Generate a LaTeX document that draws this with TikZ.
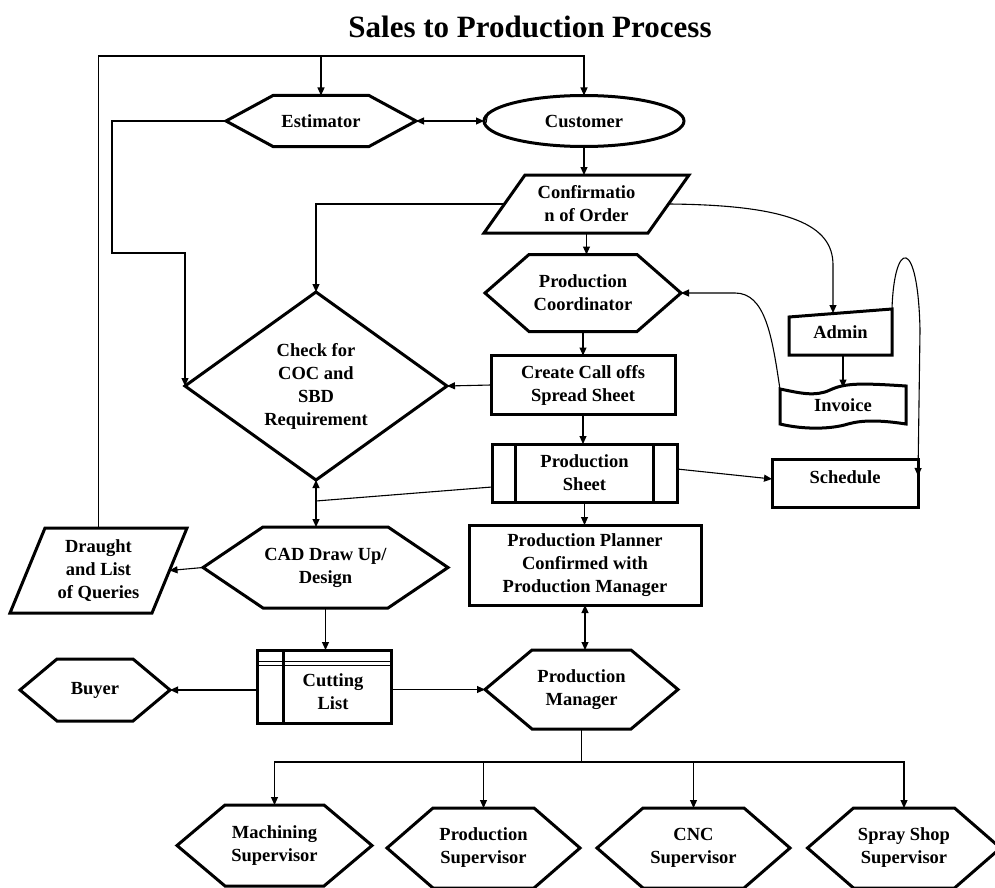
\documentclass[tikz,border=0pt]{standalone}
\usepackage{fontspec}
\setmainfont{Liberation Serif}
\usetikzlibrary{arrows.meta,calc,shapes.geometric}

\tikzset{
  shp/.style={draw=black, line width=3pt, line join=miter},
  conn/.style={draw=black, line width=1.1pt},
  arr/.style={conn, -{Triangle[length=8pt,width=7pt]}},
  arrtwo/.style={conn, {Triangle[length=8pt,width=7pt]}-{Triangle[length=8pt,width=7pt]}},
  lbl/.style={inner sep=0pt, outer sep=0pt, align=center, text=black,
              font=\fontsize{18.5}{23}\selectfont\bfseries},
}

% hexagon: name, x, y, width, height, inset, text
\newcommand\hexbox[7]{%
  \node[lbl, minimum width=#4pt, minimum height=#5pt] (#1) at (#2,#3) {#7};
  \draw[shp] (#1.west) -- ([xshift=#6pt]#1.north west) -- ([xshift=-#6pt]#1.north east)
    -- (#1.east) -- ([xshift=-#6pt]#1.south east) -- ([xshift=#6pt]#1.south west) -- cycle;
}
% decision diamond: name, x, y, width, height, text
\newcommand\diabox[6]{%
  \node[lbl, minimum width=#4pt, minimum height=#5pt] (#1) at (#2,#3) {#6};
  \draw[shp] (#1.west) -- (#1.north) -- (#1.east) -- (#1.south) -- cycle;
}
% data parallelogram: name, x, y, width, height, slant, text
\newcommand\parabox[7]{%
  \node[lbl, minimum width=#4pt, minimum height=#5pt] (#1) at (#2,#3) {#7};
  \draw[shp] ([xshift=#6pt]#1.north west) -- (#1.north east)
    -- ([xshift=-#6pt]#1.south east) -- (#1.south west) -- cycle;
}
% process rectangle: name, x, y, width, height, text
\newcommand\rectbox[6]{%
  \node[lbl, shp, minimum width=#4pt, minimum height=#5pt] (#1) at (#2,#3) {#6};
}

\begin{document}
\begin{tikzpicture}[x=1pt,y=-1pt]
\fill[white] (0,0) rectangle (995,888);
\useasboundingbox (0,0) rectangle (995,888);

% heading
\node[inner sep=0pt, anchor=base, font=\fontsize{31}{36}\selectfont\bfseries]
  (title) at (530,38) {Sales to Production Process};

% ---- upper part
\hexbox{est}{321}{121}{190}{51}{47}{Estimator}
\node[lbl, shp, ellipse, minimum width=200pt, minimum height=51pt] (cust) at (584,121) {Customer};
\draw[line width=1.1pt] ([shift={(4pt,9pt)}]cust.west) -- ([shift={(2pt,-2pt)}]cust.west);
\parabox{conf}{586.5}{204}{205}{58}{41}{Confirmatio\\n of Order}
\hexbox{coord}{583}{293}{196}{77}{44}{Production\\Coordinator}
\diabox{chk}{316}{386}{262}{188}{Check for\\COC and\\SBD\\Requirement}
\rectbox{create}{583}{385}{184}{59}{Create Call offs\\Spread Sheet}

% production sheet (predefined process)
\rectbox{sheet}{584.5}{473}{185}{58}{Production\\Sheet}
\draw[shp] ([xshift=23pt]sheet.north west) -- ([xshift=23pt]sheet.south west);
\draw[shp] ([xshift=-24pt]sheet.north east) -- ([xshift=-24pt]sheet.south east);

\rectbox{plan}{585}{565}{232}{80}{Production Planner\\Confirmed with\\Production Manager}

% admin (manual input) and invoice (document)
\node[lbl, minimum width=103pt, minimum height=46pt] (admin) at (840.5,332) {Admin};
\draw[shp] (admin.south west) -- ([yshift=-8pt]admin.north west) -- (admin.north east)
  -- (admin.south east) -- cycle;
\node[lbl, minimum width=126pt, minimum height=40pt] (inv) at (843,405.5) {Invoice};
\draw[shp] (780,389) .. controls (800,393) and (815,397) .. (830,390)
  .. controls (845,383) and (860,383) .. (906,386) -- (906,424)
  .. controls (880,420) and (862,420) .. (848,424)
  .. controls (832,429) and (805,430) .. (780,424) -- cycle;

% schedule
\node[shp, inner sep=0pt, outer sep=0pt, minimum width=146pt, minimum height=48pt] (sched) at (845,483) {};
\node[lbl] (schedtxt) at (845,477) {Schedule};

% ---- lower part
\hexbox{cad}{325.5}{567.5}{245}{81}{60}{CAD Draw Up/\\Design}
\parabox{draught}{98.5}{570.5}{177}{85}{35}{Draught\\and List\\of Queries}
\hexbox{buyer}{95}{690}{150}{62}{37}{Buyer}
\hexbox{pm}{581.5}{689.5}{193}{79}{47}{Production\\Manager}

% cutting list
\node[shp, inner sep=0pt, outer sep=0pt, minimum width=134pt, minimum height=73pt] (cut) at (324,686.5) {};
\draw[shp] ([xshift=26pt]cut.north west) -- ([xshift=26pt]cut.south west);
\draw[line width=1.8pt] ([yshift=-11.5pt]cut.north west) -- ([yshift=-11.5pt]cut.north east);
\draw[line width=1.8pt] ([yshift=-15.5pt]cut.north west) -- ([yshift=-15.5pt]cut.north east);
\node[lbl] (cuttxt) at (333,692) {Cutting\\List};

% supervisors
\hexbox{supa}{274.5}{845.5}{195}{81}{48}{Machining\\Supervisor}
\hexbox{supb}{483.5}{848}{193}{80}{46}{Production\\Supervisor}
\hexbox{supc}{693.5}{848}{193}{80}{46}{CNC\\Supervisor}
\hexbox{supd}{904}{848}{193}{80}{46}{Spray Shop\\Supervisor}

% ---- connectors
\coordinate (topl) at (97,56);
\draw[arr] (draught.north) |- (cust.north |- topl) -- (cust.north);
\draw[arr] (est.north |- topl) -- (est.north);
\draw[arrtwo] (est.east) -- (cust.west);

\coordinate (ej) at (112,253);
\draw[arr] (est.west) -| (ej) -| (chk.west);

\draw[arr] (cust.south) -- (cust.south |- conf.north);
\draw[arr] ([xshift=20.5pt]conf.west) -| (chk.north);
\draw[arr] (conf.south) -- (conf.south |- coord.north);

\coordinate (admintop) at (833,313);
\draw[arr] ([xshift=-20.5pt]conf.east) .. controls (790,205) and (833,225) .. (833,265) -- (admintop);
\draw[arr] (inv.north |- admin.south) -- ([yshift=-2pt]inv.north);
\draw[arr] ([yshift=-4pt]inv.north west) .. controls (772,335) and (765,293) .. (735,293) -- (coord.east);
\draw[arr] (admin.north east) .. controls (894,240) and (918,235) .. (920,330) -- ([yshift=7pt]sched.east);

\draw[arr] (coord.south) -- (coord.south |- create.north);
\draw[arr] (create.west) -- (chk.east);
\draw[arr] (create.south) -- (create.south |- sheet.north);
\draw[arr] (sheet.south) -- (sheet.south |- plan.north);
\draw[arr] ([yshift=4pt]sheet.east) -- ([yshift=4pt]sched.west);

\coordinate (stem) at (chk.south |- 0,501);
\draw[conn] ([yshift=-14pt]sheet.west) -- (stem);
\draw[arrtwo] (chk.south) -- (chk.south |- cad.north);

\draw[arr] (cad.west) -- ([xshift=-17.5pt]draught.east);
\draw[arr] (cad.south) -- (cad.south |- cut.north);
\draw[arr] (cut.west |- buyer.east) -- (buyer.east);
\draw[arr] (cut.east |- pm.west) -- (pm.west);
\draw[arrtwo] (plan.south) -- (plan.south |- pm.north);

\coordinate (bus) at (pm.south |- 0,762);
\draw[conn] (pm.south) -- (bus);
\foreach \s in {supa,supb,supc,supd} \draw[arr] (bus) -| (\s.north);
\end{tikzpicture}
\end{document}
